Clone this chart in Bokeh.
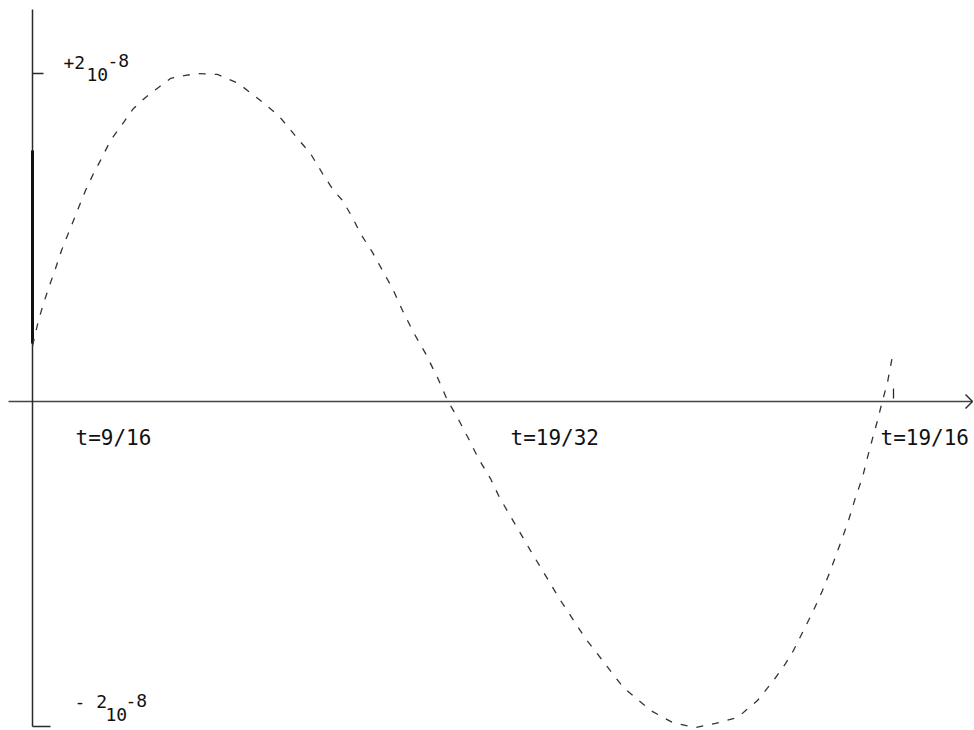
from bokeh.plotting import figure
from bokeh.embed import file_html
from bokeh.resources import INLINE
from bokeh.core.properties import value

# ---- data (x: arbitrary time units along the trace, y: units of 10^-8) ----
t_vals = [0.0, 0.6, 1.1, 1.7, 2.3, 2.9, 3.7, 4.5, 5.3, 6.1, 6.8, 7.8,
          9.1, 10.1, 11.3, 12.6, 13.8, 15.3, 16.5, 18.5, 20.6, 22.8, 24.6,
          26.5, 27.8, 29.0, 30.1, 31.0, 32.0, 32.8, 34.0, 35.0, 36.0, 37.0,
          38.1, 39.3, 40.5, 41.5, 42.5, 43.6, 44.6, 45.8, 46.7, 49.8, 52.8,
          55.3, 57.0, 58.0, 59.1, 61.8, 64.0, 66.3, 68.3, 70.5, 72.5, 74.1,
          75.3, 76.1, 77.1, 78.1, 79.0, 79.8, 81.0, 81.6, 82.3, 83.0, 83.5,
          84.0, 84.5, 85.0, 85.5, 86.1]
amp_vals = [0.34, 0.494, 0.598, 0.707, 0.811, 0.921, 1.043, 1.165, 1.287,
            1.390, 1.470, 1.591, 1.701, 1.787, 1.854, 1.915, 1.970, 1.988,
            2.000, 1.994, 1.939, 1.835, 1.744, 1.604, 1.512, 1.390, 1.287,
            1.226, 1.122, 1.024, 0.909, 0.799, 0.689, 0.555, 0.421, 0.293,
            0.146, 0.006, -0.098, -0.226, -0.348, -0.470, -0.585, -0.909,
            -1.213, -1.445, -1.579, -1.659, -1.744, -1.884, -1.957, -1.988,
            -1.963, -1.927, -1.823, -1.701, -1.598, -1.518, -1.396, -1.274,
            -1.152, -1.030, -0.829, -0.726, -0.585, -0.463, -0.341, -0.226,
            -0.116, 0.006, 0.116, 0.311]

t_labels = ["t=9/16", "t=19/32", "t=19/16"]
t_label_pos = [4.3, 47.8, 84.8]
top_label = ["+2", "10", "-8"]
bottom_label = ["- 2", "10", "-8"]

p = figure(width=974, height=730, x_range=(-3.2, 94.2), y_range=(-2.006, 2.445),
           output_backend="svg", toolbar_location=None, min_border=0)
p.axis.visible = False
p.grid.visible = False
p.outline_line_color = None
p.background_fill_color = "white"
p.border_fill_color = "white"

ink = "#2a2a2a"

# horizontal axis with arrow
p.segment(x0=[-2.4], y0=[0], x1=[94.0], y1=[0], line_color="#444", line_width=1.6)
p.segment(x0=[93.3, 93.3], y0=[0.043, -0.043], x1=[94.0, 94.0], y1=[0, 0],
          line_color=ink, line_width=1.4)
# small tick near right end
p.segment(x0=[86.1], y0=[0.018], x1=[86.1], y1=[0.079], line_color=ink, line_width=1.3)

# vertical axis
p.segment(x0=[0], y0=[2.39], x1=[0], y1=[-1.982], line_color=ink, line_width=1.5)
p.segment(x0=[0], y0=[0.354], x1=[0], y1=[1.53], line_color="#111", line_width=3)
p.segment(x0=[0, 0], y0=[2.0, -1.982], x1=[1.1, 1.8], y1=[2.0, -1.982],
          line_color=ink, line_width=1.5)

# the trace
p.line(t_vals, amp_vals, line_color="#333", line_width=1.3, line_dash="7 9")

font = value("DejaVu Sans Mono")
p.text(x=t_label_pos, y=[-0.222] * 3, text=t_labels, text_font=font,
       text_font_size="21px", text_align="left", text_baseline="middle",
       text_color="#111")

p.text(x=[3.1, 5.4, 7.5], y=[2.067, 1.994, 2.079], text=top_label, text_font=font,
       text_font_size="18px", text_align="left", text_baseline="middle",
       text_color="#111")
p.text(x=[4.2, 7.3, 9.3], y=[-1.829, -1.909, -1.823], text=bottom_label,
       text_font=font, text_font_size="18px", text_align="left",
       text_baseline="middle", text_color="#111")

open("out.html", "w").write(file_html(p, INLINE))
